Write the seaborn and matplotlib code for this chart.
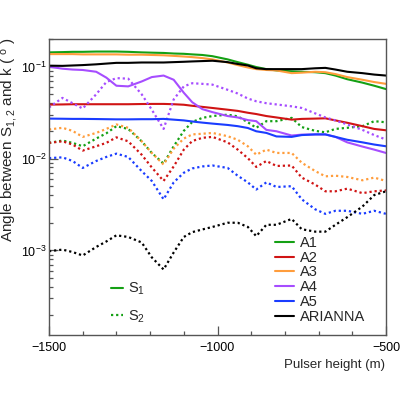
import numpy as np
import pandas as pd
import matplotlib
matplotlib.use("Agg")
import matplotlib.pyplot as plt
import seaborn as sns
from matplotlib.lines import Line2D
from matplotlib.ticker import LogLocator, MultipleLocator, NullFormatter

# pulser height (m)
height = [-1500, -1460, -1430, -1400, -1360, -1330, -1300, -1265, -1225, -1195,
          -1160, -1130, -1100, -1075, -1045, -1015, -970, -940, -910, -885,
          -855, -825, -780, -750, -710, -680, -650, -615, -570, -535, -500]

# S1 angles (solid)
a1_s1 = [0.143, 0.144, 0.145, 0.145, 0.146, 0.146, 0.146, 0.145, 0.143, 0.142,
         0.141, 0.139, 0.138, 0.136, 0.134, 0.130, 0.120, 0.112, 0.105, 0.099,
         0.094, 0.091, 0.089, 0.088, 0.087, 0.085, 0.080, 0.073, 0.067, 0.062, 0.057]
a2_s1 = [0.0386, 0.0388, 0.039, 0.039, 0.039, 0.039, 0.039, 0.039, 0.0392, 0.0393,
         0.0393, 0.039, 0.0385, 0.0375, 0.0365, 0.0355, 0.034, 0.033, 0.0315, 0.0305,
         0.029, 0.028, 0.0265, 0.027, 0.0272, 0.0274, 0.026, 0.0245, 0.0225, 0.021, 0.0203]
a3_s1 = [0.137, 0.137, 0.137, 0.136, 0.136, 0.136, 0.136, 0.135, 0.135, 0.134,
         0.133, 0.131, 0.129, 0.127, 0.124, 0.120, 0.111, 0.104, 0.098, 0.094,
         0.092, 0.091, 0.085, 0.086, 0.088, 0.087, 0.083, 0.077, 0.072, 0.068, 0.065]
a4_s1 = [0.100, 0.095, 0.093, 0.092, 0.088, 0.076, 0.062, 0.061, 0.069, 0.077,
         0.080, 0.072, 0.052, 0.041, 0.0345, 0.032, 0.029, 0.028, 0.0262, 0.0255,
         0.0205, 0.0198, 0.0178, 0.0182, 0.0183, 0.0183, 0.0172, 0.015, 0.0135, 0.0125, 0.0115]
a5_s1 = [0.0272, 0.0271, 0.027, 0.027, 0.0269, 0.0268, 0.0267, 0.0267, 0.0268, 0.0268,
         0.027, 0.0265, 0.026, 0.0253, 0.0246, 0.024, 0.0232, 0.0225, 0.0215, 0.0198,
         0.019, 0.0174, 0.0172, 0.018, 0.0183, 0.0183, 0.0172, 0.016, 0.015, 0.0142, 0.0136]
ari_s1 = [0.1025, 0.102, 0.103, 0.104, 0.106, 0.108, 0.110, 0.110, 0.111, 0.111,
          0.111, 0.112, 0.113, 0.114, 0.115, 0.116, 0.112, 0.107, 0.103, 0.096,
          0.094, 0.094, 0.094, 0.094, 0.096, 0.097, 0.093, 0.088, 0.085, 0.082, 0.080]

# S2 angles (dotted)
a1_s2 = [0.0148, 0.0157, 0.0148, 0.0136, 0.0165, 0.0188, 0.0225, 0.021, 0.0154, 0.0115,
         0.0088, 0.0136, 0.020, 0.025, 0.0277, 0.029, 0.030, 0.0288, 0.0248, 0.0216,
         0.0255, 0.0255, 0.0277, 0.022, 0.020, 0.0193, 0.021, 0.0216, 0.0225, 0.0255, 0.0248]
a2_s2 = [0.0148, 0.0154, 0.0142, 0.0122, 0.0136, 0.0148, 0.017, 0.0154, 0.011, 0.008,
         0.0057, 0.0082, 0.0125, 0.0155, 0.0168, 0.0172, 0.015, 0.0125, 0.0101, 0.0081,
         0.0094, 0.0083, 0.0084, 0.0062, 0.0052, 0.0044, 0.0044, 0.0047, 0.0042, 0.0044, 0.0045]
a3_s2 = [0.0207, 0.0216, 0.020, 0.0172, 0.019, 0.021, 0.0235, 0.0216, 0.0154, 0.0115,
         0.0086, 0.0128, 0.0165, 0.0183, 0.0186, 0.019, 0.0175, 0.016, 0.0136, 0.011,
         0.0125, 0.0115, 0.0115, 0.009, 0.0073, 0.0064, 0.0065, 0.0063, 0.0058, 0.0062, 0.0057]
a4_s2 = [0.036, 0.0457, 0.040, 0.035, 0.050, 0.068, 0.075, 0.074, 0.050, 0.034,
         0.021, 0.044, 0.061, 0.066, 0.065, 0.0637, 0.056, 0.051, 0.045, 0.042,
         0.040, 0.0388, 0.037, 0.0355, 0.031, 0.028, 0.026, 0.0235, 0.0205, 0.018, 0.0161]
a5_s2 = [0.0101, 0.0103, 0.0094, 0.0079, 0.0094, 0.0104, 0.0113, 0.0104, 0.0073, 0.0057,
         0.0036, 0.0055, 0.007, 0.0078, 0.0082, 0.0084, 0.0079, 0.0065, 0.0055, 0.0046,
         0.0055, 0.0049, 0.005, 0.0036, 0.0028, 0.0025, 0.0027, 0.0027, 0.0025, 0.0027, 0.0025]
ari_s2 = [0.00098, 0.00102, 0.00096, 0.00088, 0.00109, 0.00125, 0.00146, 0.0014, 0.00122, 0.00084,
          0.00062, 0.00095, 0.0014, 0.00158, 0.00169, 0.0018, 0.002, 0.002, 0.0018, 0.00143,
          0.0019, 0.0019, 0.0022, 0.0017, 0.0016, 0.0016, 0.0019, 0.0023, 0.003, 0.004, 0.0044]

names = ["A1", "A2", "A3", "A4", "A5", "ARIANNA"]
colors = ["#14a014", "#d01414", "#ff9d3c", "#a64dff", "#1a3cff", "#000000"]
s1_series = [a1_s1, a2_s1, a3_s1, a4_s1, a5_s1, ari_s1]
s2_series = [a1_s2, a2_s2, a3_s2, a4_s2, a5_s2, ari_s2]

sns.set_style("ticks")
plt.rcParams['font.family'] = ['Liberation Sans', 'DejaVu Sans']
plt.rcParams['mathtext.fontset'] = 'custom'
plt.rcParams['mathtext.rm'] = 'Liberation Sans'
plt.rcParams['mathtext.it'] = 'Liberation Sans'

fig = plt.figure(figsize=(4.07, 3.95), dpi=100)
ax = fig.add_axes([49/407, 1-335/395, 337/407, 296/395])

dots = (0, (1, 1.3))
for name, col, s1, s2 in zip(names, colors, s1_series, s2_series):
    sns.lineplot(x=height, y=s1, color=col, lw=1.5, ax=ax, legend=False)
    sns.lineplot(x=height, y=s2, color=col, lw=1.6, linestyle=dots, ax=ax, legend=False)

ax.set_yscale("log")
ax.set_xlim(-1500, -500)
ax.set_ylim(1.2e-4, 0.2)

ax.xaxis.set_major_locator(MultipleLocator(500))
ax.xaxis.set_minor_locator(MultipleLocator(100))
ax.yaxis.set_major_locator(LogLocator(base=10))
ax.yaxis.set_minor_locator(LogLocator(base=10, subs=np.arange(2, 10)))
ax.yaxis.set_minor_formatter(NullFormatter())

spine_col = "#555555"
for s in ax.spines.values():
    s.set_color(spine_col)
    s.set_linewidth(1.0)
ax.tick_params(which="both", direction="in", colors=spine_col, labelcolor="black",
               labelsize=9, top=False, right=False)
ax.tick_params(which="major", length=6.5, width=0.9)
ax.tick_params(which="minor", length=3.2, width=0.9)
ax.tick_params(axis="x", pad=5)
ax.tick_params(axis="y", pad=2)

ax.set_xlabel("")
ax.set_ylabel("")
fig.text(385/407, 1-368/395, "Pulser height (m)", ha="right", va="baseline", fontsize=9.5)
fig.text(9/407, 1-38/395, "Angle between S$_{1,2}$ and k ( $^{o}$ )", rotation=90,
         ha="center", va="top", fontsize=11)

h1 = [Line2D([], [], color=c, lw=1.5) for c in colors]
leg1 = ax.legend(h1, names, loc="upper left", bbox_to_anchor=((275-49)/337, (335-236)/296),
                 frameon=False, fontsize=10.5, handlelength=1.3, handletextpad=0.4,
                 labelspacing=0.05, borderpad=0, borderaxespad=0)
ax.add_artist(leg1)

h2 = [Line2D([], [], color=colors[0], lw=1.5),
      Line2D([], [], color=colors[0], lw=1.6, linestyle=dots)]
ax.legend(h2, ["S$_1$", "S$_2$"], loc="upper left",
          bbox_to_anchor=((111-49)/337, (335-281)/296), frameon=False, fontsize=10.5,
          handlelength=0.8, handletextpad=0.4, labelspacing=0.75, borderpad=0,
          borderaxespad=0)

fig.savefig("out.png", dpi=100)
